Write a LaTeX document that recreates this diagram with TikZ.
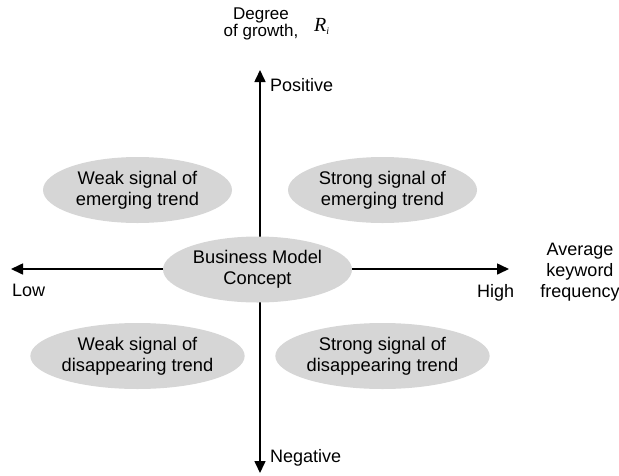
\documentclass[tikz,border=0pt]{standalone}
\usepackage{fontspec}
\setmainfont{Liberation Sans}
\newfontfamily\timesfont{Liberation Serif}
\usetikzlibrary{arrows.meta,shapes.geometric}
\begin{document}
\begin{tikzpicture}[x=1pt,y=-1pt,
  oval/.style={ellipse,fill=black!16,minimum width=189pt,minimum height=66pt,inner sep=0pt,align=center,font=\fontsize{18.3}{21}\selectfont},
  lbl/.style={font=\fontsize{18}{21}\selectfont,inner sep=0pt,align=center},
  axis/.style={line width=1.6pt,-{Triangle[length=12pt,width=11pt]}}]
\useasboundingbox (0,0) rectangle (619,475);
\coordinate (o) at (260,269);
\coordinate (top) at (260,70);
\coordinate (bot) at (260,473);
\coordinate (lft) at (11,269);
\coordinate (rgt) at (509,269);
\draw[axis] (o) -- (top);
\draw[axis] (o) -- (bot);
\draw[axis] (o) -- (lft);
\draw[axis] (o) -- (rgt);
\node[oval] (c) at (257.5,269.5) {Business Model\\Concept};
\node[oval] (tl) at (137.5,190) {Weak signal of\\emerging trend};
\node[oval] (tr) at (382.5,190) {Strong signal of\\emerging trend};
\node[oval] (bl) at (137.5,356) {Weak signal of\\disappearing trend};
\node[oval] (br) at (382.5,356) {Strong signal of\\disappearing trend};
\node[lbl,font=\fontsize{17}{16.5}\selectfont] (deg) at (261,24) {Degree\\of growth,};
\node[inner sep=0pt,anchor=base west,font=\timesfont\fontsize{20}{24}\selectfont] (ri) at (314,31) {\textit{R}\raisebox{-3.5pt}{\fontsize{10}{12}\selectfont\textit{i}}};
\node[lbl,anchor=base west] (pos) at (270,91) {Positive};
\node[lbl,anchor=base west] (neg) at (270,462) {Negative};
\node[lbl,anchor=base west] (low) at (12,296) {Low};
\node[lbl,anchor=base west] (high) at (477,297) {High};
\node[lbl] (avg) at (580,272) {Average\\keyword\\frequency};
\end{tikzpicture}
\end{document}
